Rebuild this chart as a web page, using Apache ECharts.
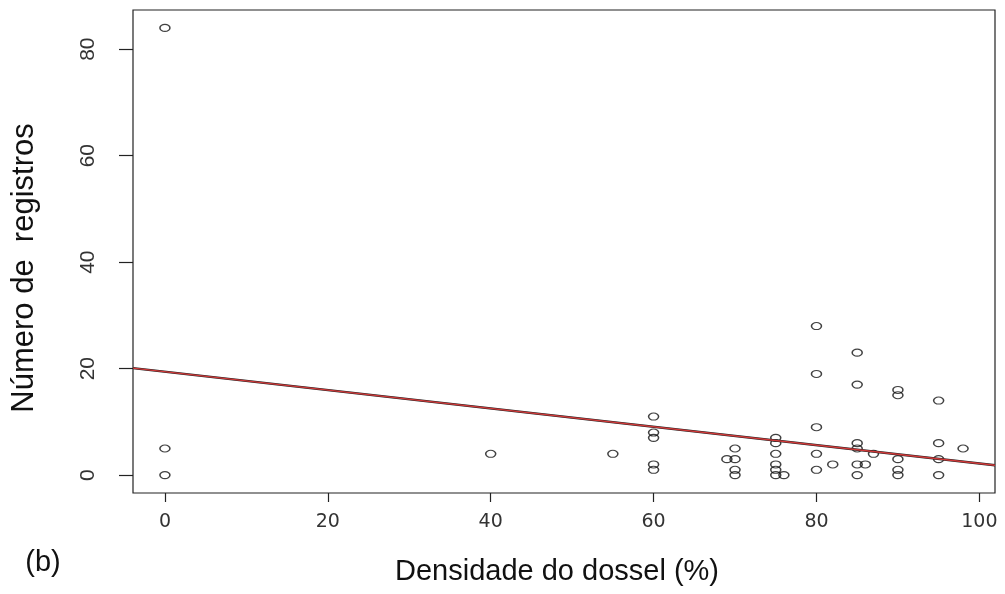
<!DOCTYPE html>
<html>
<head>
<meta charset="utf-8">
<script src="https://cdn.jsdelivr.net/npm/echarts@6/dist/echarts.min.js"></script>
<style>
html,body{margin:0;padding:0;background:#fff;}
#chart{width:1005px;height:594px;}
</style>
</head>
<body>
<div id="chart"></div>
<script>
// Data
var densidade = [0,0,0,40,55,60,60,60,60,60,69,70,70,70,70,75,75,75,75,75,75,76,80,80,80,80,80,82,85,85,85,85,85,85,86,87,90,90,90,90,90,95,95,95,95,98];
var registros = [84,5,0,4,4,11,8,7,2,1,3,3,5,1,0,7,6,4,2,1,0,0,28,19,9,4,1,2,23,17,6,5,2,0,2,4,16,15,3,1,0,14,6,3,0,5];
var xTicks = [0,20,40,60,80,100];
var yTicks = [0,20,40,60,80];
var fitX = [-3.92, 101.92];
var fitY = [20.1, 1.85];
var xTitle = 'Densidade do dossel (%)';
var yTitle = 'Número de  registros';
var panelLabel = '(b)';

var points = densidade.map(function(x,i){ return [x, registros[i]]; });
var fitLine = fitX.map(function(x,i){ return [x, fitY[i]]; });

var chart = echarts.init(document.getElementById('chart'), null, {renderer:'canvas'});
chart.setOption({
  backgroundColor:'#ffffff',
  animation:false,
  grid:{left:133, right:10, top:10, bottom:101, show:true, borderColor:'#222', borderWidth:1.2, backgroundColor:'transparent'},
  xAxis:{
    type:'value', min:-3.92, max:101.92,
    axisLine:{show:false, onZero:false},
    splitLine:{show:false},
    axisTick:{show:true, inside:false, length:9, customValues:xTicks, lineStyle:{color:'#222', width:1.2}},
    axisLabel:{customValues:xTicks, margin:20, color:'#333', fontFamily:'DejaVu Sans', fontSize:19}
  },
  yAxis:{
    type:'value', min:-3.36, max:87.36,
    axisLine:{show:false, onZero:false},
    splitLine:{show:false},
    axisTick:{show:true, inside:false, length:14, customValues:yTicks, lineStyle:{color:'#222', width:1.2}},
    axisLabel:{customValues:yTicks, rotate:90, margin:34, color:'#333', fontFamily:'Liberation Sans Narrow, Liberation Sans', fontSize:21}
  },
  series:[
    {type:'scatter', data:points, symbol:'circle', symbolSize:[10,7],
     itemStyle:{color:'rgba(255,255,255,0)', borderColor:'#111', borderWidth:1.3}, z:3},
    {type:'line', data:fitLine, showSymbol:false, lineStyle:{color:'#222', width:2.4}, z:4},
    {type:'line', data:fitLine, showSymbol:false, lineStyle:{color:'#d23a3a', width:1.3}, z:5}
  ],
  graphic:[
    {type:'text', style:{text:xTitle, fontFamily:'Liberation Sans', fontSize:29, fill:'#111', textAlign:'center', textVerticalAlign:'middle'}, position:[557,572]},
    {type:'text', style:{text:yTitle, fontFamily:'Liberation Sans', fontSize:31, fill:'#111', textAlign:'center', textVerticalAlign:'middle'}, position:[24,268], rotation:Math.PI/2},
    {type:'text', style:{text:panelLabel, fontFamily:'Liberation Sans', fontSize:29, fill:'#111', textAlign:'center', textVerticalAlign:'middle'}, position:[43,563]}
  ]
});
</script>
</body>
</html>
